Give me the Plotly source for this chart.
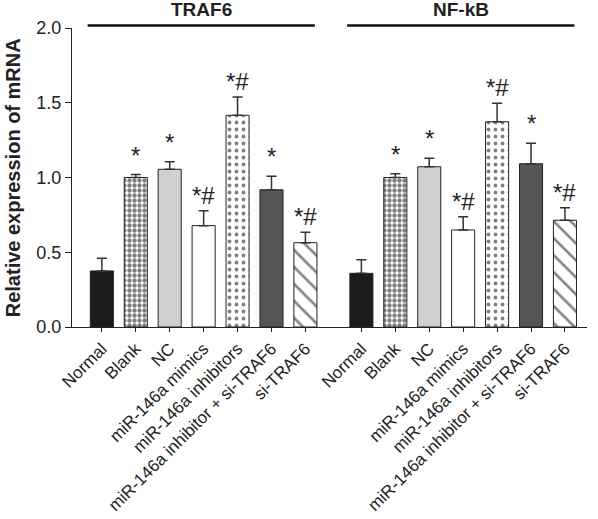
import plotly.graph_objects as go

categories = ["Normal", "Blank", "NC", "miR-146a mimics", "miR-146a inhibitors",
              "miR-146a inhibitor + si-TRAF6", "si-TRAF6"]
groups = ["TRAF6", "NF-kB"]

traf6_mean = [0.375, 1.00, 1.055, 0.678, 1.416, 0.918, 0.564]
traf6_err = [0.085, 0.02, 0.05, 0.10, 0.122, 0.09, 0.07]
nfkb_mean = [0.359, 1.00, 1.072, 0.649, 1.373, 1.092, 0.714]
nfkb_err = [0.09, 0.025, 0.056, 0.089, 0.123, 0.137, 0.084]
traf6_marks = ["", "*", "*", "*#", "*#", "*", "*#"]
nfkb_marks = ["", "*", "*", "*#", "*#", "*", "*#"]

y_ticks = [0.0, 0.5, 1.0, 1.5, 2.0]

# styling
fill_colors = ["#1c1c1c", "#ffffff", "#cfcfcf", "#ffffff", "#ffffff", "#555555", "#ffffff"]
pat_shapes = ["", ".", "", "", ".", "", "\\"]
pat_sizes = [8, 5, 8, 8, 7, 8, 12]
pat_solid = [0.3, 0.6, 0.3, 0.3, 0.24, 0.3, 0.22]

group_gap = 1.65
pos1 = [i for i in range(len(categories))]
pos2 = [p + len(categories) - 1 + group_gap for p in pos1]

FONT = "Liberation Sans, Arial, sans-serif"
INK = "#222222"

fig = go.Figure()
for pos, mean, err in [(pos1, traf6_mean, traf6_err), (pos2, nfkb_mean, nfkb_err)]:
    for i in range(len(categories)):
        marker = dict(color=fill_colors[i], line=dict(color=INK, width=1))
        if pat_shapes[i]:
            marker["pattern"] = dict(shape=pat_shapes[i], size=pat_sizes[i],
                                     solidity=pat_solid[i], fgcolor="#000000",
                                     bgcolor=fill_colors[i])
        fig.add_trace(go.Bar(
            x=[pos[i]], y=[mean[i]], width=0.68, marker=marker,
            error_y=dict(type="data", symmetric=False, array=[err[i]],
                         arrayminus=[0], color="#333333", thickness=1.5, width=5),
            showlegend=False, hoverinfo="skip",
        ))

annotations = []
for pos, mean, err, marks in [(pos1, traf6_mean, traf6_err, traf6_marks),
                              (pos2, nfkb_mean, nfkb_err, nfkb_marks)]:
    for p, m, e, t in zip(pos, mean, err, marks):
        if t:
            annotations.append(dict(x=p, y=m + e, text=t, showarrow=False,
                                    xanchor="center", yanchor="bottom",
                                    yshift=4 if t == "*" else 0,
                                    font=dict(family=FONT, size=24, color=INK)))

shapes = []
for pos, name in [(pos1, groups[0]), (pos2, groups[1])]:
    x0 = pos[0] - 0.42
    x1 = pos[-1] + 0.28
    shapes.append(dict(type="line", xref="x", yref="paper", x0=x0, x1=x1,
                       y0=1.008, y1=1.008, line=dict(color="#111111", width=2.5)))
    annotations.append(dict(x=(x0 + x1) / 2, y=1.062, xref="x", yref="paper",
                            text="<b>%s</b>" % name, showarrow=False,
                            xanchor="center", yanchor="middle",
                            font=dict(family=FONT, size=19, color=INK)))

annotations.append(dict(x=-0.115, y=0.5, xref="paper", yref="paper",
                        text="<b>Relative expression of mRNA</b>", textangle=-90,
                        showarrow=False, xanchor="center", yanchor="middle",
                        font=dict(family=FONT, size=20, color=INK)))

fig.update_layout(
    width=598, height=519, autosize=False,
    margin=dict(l=72, r=11, t=28, b=192, pad=0),
    plot_bgcolor="white", paper_bgcolor="white",
    font=dict(family=FONT, size=17, color=INK),
    bargap=0, hovermode=False,
    annotations=annotations, shapes=shapes,
    xaxis=dict(range=[-0.88, pos2[-1] + 0.65], tickvals=pos1 + pos2,
               ticktext=categories + categories, tickangle=-45,
               showline=True, linecolor=INK, linewidth=1.2,
               ticks="outside", ticklen=4, tickcolor=INK,
               showgrid=False, zeroline=False, automargin=False,
               tickfont=dict(family=FONT, size=17, color=INK)),
    yaxis=dict(range=[0, 2.0], tickvals=y_ticks, tickformat=".1f",
               showline=True, linecolor=INK, linewidth=1.2,
               ticks="outside", ticklen=6, tickcolor=INK,
               showgrid=False, zeroline=False, automargin=False,
               tickfont=dict(family=FONT, size=18, color=INK)),
)

# remove the browser's default 8px page margin so the figure sits at (0, 0)
fig.write_html("out.html",
               config={"displayModeBar": False, "staticPlot": True},
               post_script="document.body.style.margin='0';"
                           "document.documentElement.style.margin='0';")
